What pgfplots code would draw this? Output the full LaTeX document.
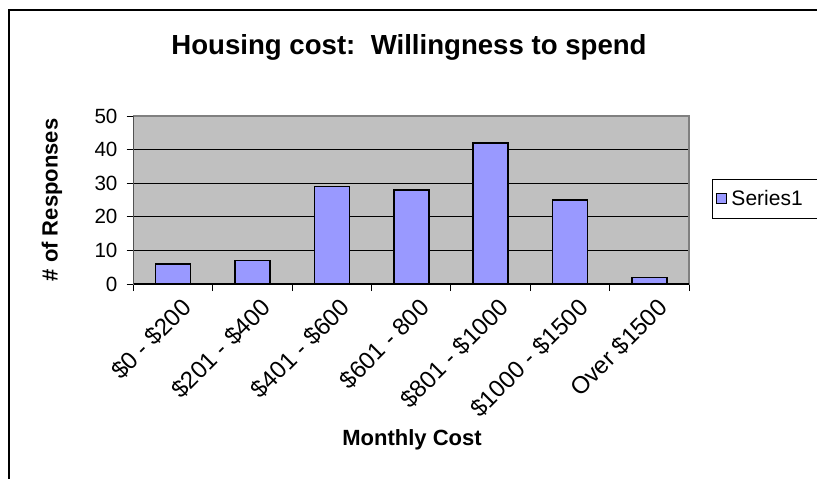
\documentclass[border=0pt]{standalone}
\usepackage{fontspec}
\setmainfont{Liberation Sans}
\usepackage{pgfplots}
\pgfplotsset{compat=1.18}
\definecolor{barfill}{RGB}{153,153,255}
\definecolor{plotgray}{RGB}{192,192,192}
\definecolor{framegray}{RGB}{128,128,128}

\begin{document}
\begin{tikzpicture}[x=1pt,y=1pt]
\useasboundingbox (0,0) rectangle (408.5,239);
% chart area frame (runs off the right and bottom edges)
\draw[line width=1pt] (4.5,-5) -- (4.5,234) -- (415,234);
\node[font=\bfseries\fontsize{13.8}{16}\selectfont] at (204.5,215.5) {Housing cost:\ \ Willingness to spend};
\begin{axis}[
  at={(66.75pt,97pt)}, anchor=south west,
  width=277.75pt, height=84pt, scale only axis,
  xmin=0.5, xmax=7.5, ymin=0, ymax=50,
  ytick={0,10,...,50},
  xtick={1,...,7},
  xticklabels={\$0 - \$200, \$201 - \$400, \$401 - \$600, \$601 - 800, \$801 - \$1000, \$1000 - \$1500, Over \$1500},
  minor xtick={0.5,1.5,...,7.5},
  major x tick style={draw=none},
  tick align=outside, tick pos=left,
  major tick length=3.5pt, minor tick length=3.5pt,
  tick style={black, line width=0.5pt},
  ymajorgrids, major grid style={black, line width=0.5pt},
  axis background/.style={fill=plotgray},
  axis line style={framegray, line width=0.6pt},
  /pgf/number format/assume math mode=true,
  yticklabel style={xshift=-1pt, font=\fontsize{10.3}{12}\selectfont},
  xticklabel style={xshift=3.5pt, yshift=-2.5pt, rotate=45, anchor=north east, inner sep=0pt,
    font=\fontsize{12}{14}\selectfont},
  legend style={at={(1.0414,0.506)}, anchor=west, draw=black, line width=0.5pt,
    fill=white, inner xsep=2pt, inner ysep=3pt, font=\fontsize{10.5}{12}\selectfont},
  legend image code/.code={\draw[#1, line width=0.5pt] (0pt,-2.5pt) rectangle (5pt,2.5pt);},
]
\addplot[ybar, bar width=17.5pt, fill=barfill, draw=black, line width=0.75pt]
  coordinates {(1,6) (2,7) (3,29) (4,28) (5,42) (6,25) (7,2)};
\addlegendentry{Series1\hspace*{14pt}}
\draw[black, line width=0.6pt] (rel axis cs:0,0) -- (rel axis cs:0,1);
\draw[black, line width=0.6pt] (rel axis cs:0,0) -- (rel axis cs:1,0);
\end{axis}
\node[font=\bfseries\fontsize{11}{13}\selectfont, rotate=90] at (26,139) {\# of Responses};
\node[font=\bfseries\fontsize{11}{13}\selectfont] at (206,19) {Monthly Cost};
\end{tikzpicture}
\end{document}
